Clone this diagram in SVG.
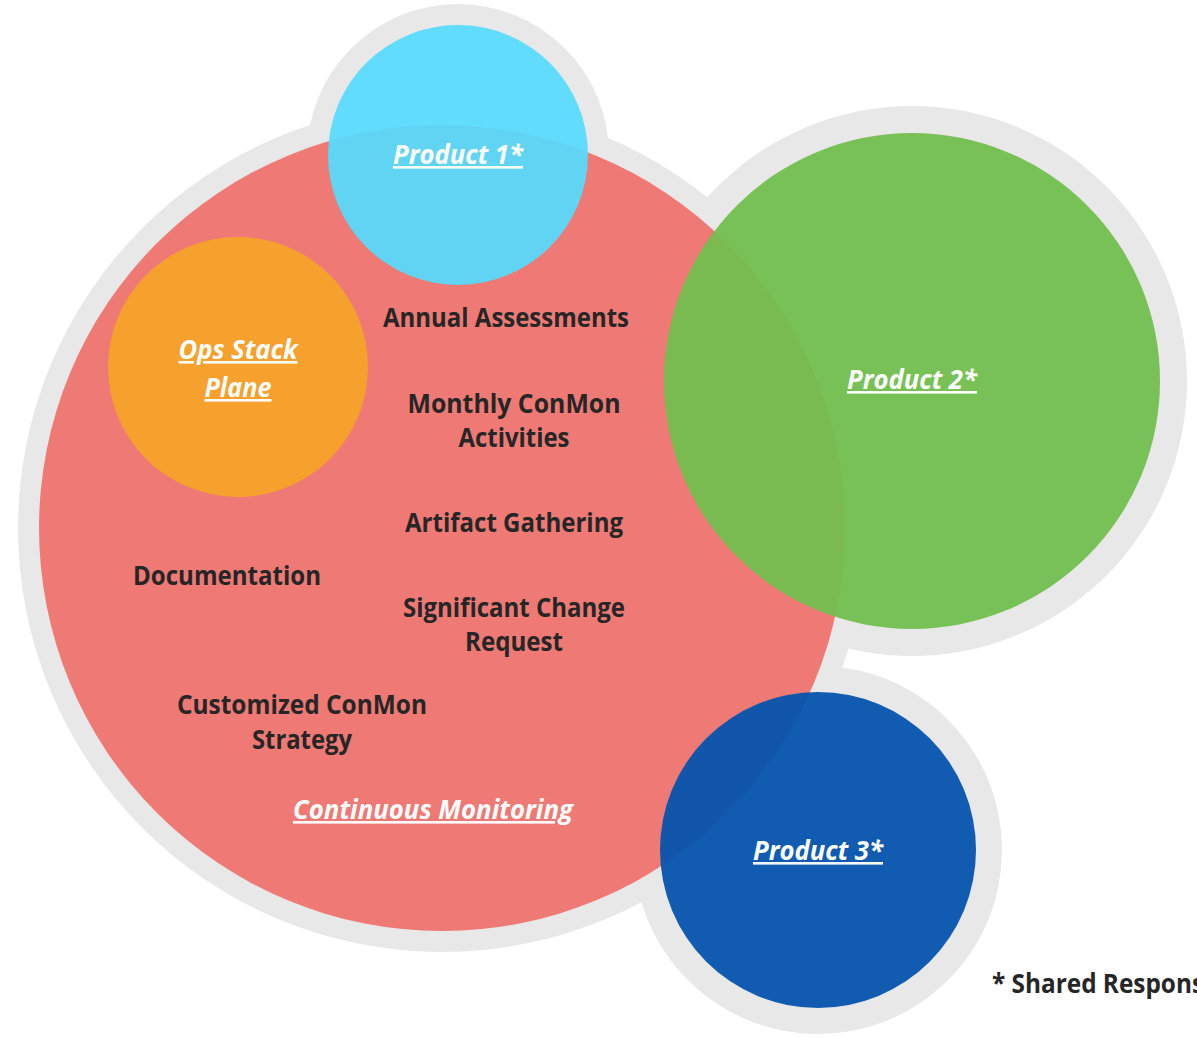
<svg xmlns="http://www.w3.org/2000/svg" width="1197" height="1038" viewBox="0 0 1197 1038">
  <style>
    .halo { fill: #E8E8E8; }
    .item { font-family: "Open Sans", Lato, "Liberation Sans", sans-serif; font-weight: 700; font-size: 27px; fill: #262626; text-anchor: middle; }
    .label { font-family: "Open Sans", Lato, "Liberation Sans", sans-serif; font-weight: 700; font-style: italic; font-size: 26px; fill: #FFFFFF; text-anchor: middle; text-decoration: underline; }
    .note { font-family: "Open Sans", Lato, "Liberation Sans", sans-serif; font-weight: 700; font-size: 26px; fill: #262626; }
  </style>
  <rect width="1197" height="1038" fill="#FFFFFF"/>

  <!-- grey outlines behind every circle -->
  <g id="halos">
    <circle class="halo" cx="442" cy="528" r="424"/>
    <circle class="halo" cx="458" cy="155" r="151"/>
    <circle class="halo" cx="912" cy="381" r="275"/>
    <circle class="halo" cx="818" cy="850" r="184"/>
  </g>

  <g id="continuous-monitoring">
    <circle cx="442" cy="528" r="403" fill="#EF7A75"/>
  </g>

  <g id="product-1">
    <circle cx="458" cy="155" r="130" fill="#56DAFD" fill-opacity="0.93"/>
  </g>

  <g id="product-2">
    <circle cx="912" cy="381" r="248" fill="#72BF4E" fill-opacity="0.95"/>
  </g>

  <g id="product-3">
    <circle cx="818" cy="850" r="158" fill="#0554AE" fill-opacity="0.95"/>
  </g>

  <g id="ops-stack-plane">
    <circle cx="238" cy="367" r="130" fill="#F6A02D"/>
  </g>

  <!-- activity labels -->
  <g id="activities">
    <text class="item" x="506" y="327" textLength="246" lengthAdjust="spacingAndGlyphs">Annual Assessments</text>
    <text class="item" x="514" y="413" textLength="213" lengthAdjust="spacingAndGlyphs">Monthly ConMon</text>
    <text class="item" x="514" y="447" textLength="111" lengthAdjust="spacingAndGlyphs">Activities</text>
    <text class="item" x="514" y="532" textLength="218" lengthAdjust="spacingAndGlyphs">Artifact Gathering</text>
    <text class="item" x="227" y="585" textLength="188" lengthAdjust="spacingAndGlyphs">Documentation</text>
    <text class="item" x="514" y="617" textLength="222" lengthAdjust="spacingAndGlyphs">Significant Change</text>
    <text class="item" x="514" y="651" textLength="98" lengthAdjust="spacingAndGlyphs">Request</text>
    <text class="item" x="302" y="714" textLength="250" lengthAdjust="spacingAndGlyphs">Customized ConMon</text>
    <text class="item" x="302" y="749" textLength="100" lengthAdjust="spacingAndGlyphs">Strategy</text>
  </g>

  <!-- circle titles -->
  <g id="titles">
    <text class="label" x="458" y="164" textLength="130" lengthAdjust="spacingAndGlyphs">Product 1*</text>
    <text class="label" x="238" y="359" textLength="119" lengthAdjust="spacingAndGlyphs">Ops Stack</text>
    <text class="label" x="238" y="397" textLength="67" lengthAdjust="spacingAndGlyphs">Plane</text>
    <text class="label" x="912" y="389" textLength="130" lengthAdjust="spacingAndGlyphs">Product 2*</text>
    <text class="label" x="818" y="860" textLength="130" lengthAdjust="spacingAndGlyphs">Product 3*</text>
    <text class="label" x="433" y="819" textLength="280" lengthAdjust="spacingAndGlyphs">Continuous Monitoring</text>
  </g>

  <!-- footnote runs past the right edge of the page -->
  <g id="footnote">
    <text class="note" x="992" y="993" textLength="212" lengthAdjust="spacingAndGlyphs">* Shared Respons</text>
  </g>
</svg>
